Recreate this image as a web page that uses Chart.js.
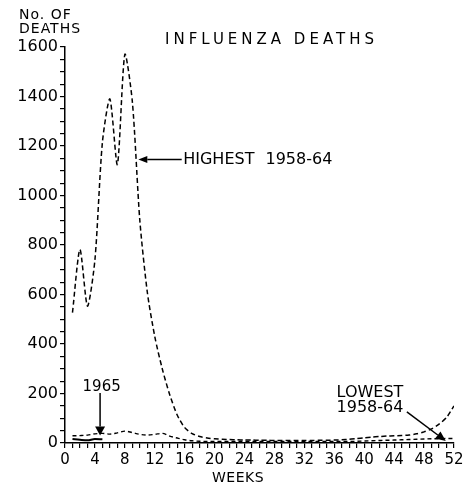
<!DOCTYPE html>
<html lang="en">
<head>
<meta charset="UTF-8">
<title>Influenza Deaths</title>
<script src="https://cdn.jsdelivr.net/npm/chart.js"></script>
<style>
    * { margin: 0; padding: 0; box-sizing: border-box; }
    body { background: #fff; width: 476px; height: 485px; overflow: hidden; }
    canvas { display: block; }
</style>
</head>
<body>
<canvas id="fluChart" width="476" height="485"></canvas>
<script>
// weekly deaths
const weeks = [1, 2, 3, 4, 5, 6, 7, 8, 9, 10, 11, 12, 13, 14, 15, 16, 17, 18, 19, 20,
    21, 22, 23, 24, 25, 26, 27, 28, 29, 30, 31, 32, 33, 34, 35, 36, 37, 38, 39, 40,
    41, 42, 43, 44, 45, 46, 47, 48, 49, 50, 51, 52];
const highest = [527, 782, 553, 740, 1215, 1390, 1125, 1570, 1380, 900, 610, 430, 300, 195, 113, 62, 38, 26, 20, 17,
    15, 14, 13, 12, 12, 11, 11, 10, 10, 10, 10, 10, 10, 11, 11, 12, 13, 15, 18, 21,
    24, 26, 28, 29, 30, 32, 37, 45, 57, 76, 103, 150];
const lowest = [29, 30, 32, 37, 39, 36, 41, 48, 42, 35, 32, 35, 39, 28, 20, 13, 9, 7, 6, 6,
    6, 6, 6, 6, 6, 6, 6, 6, 6, 6, 6, 6, 6, 6, 6, 6, 6, 6, 7, 8,
    9, 10, 11, 12, 13, 14, 15, 16, 17, 17, 18, 18];
const weeks1965 = [1, 2, 3, 4, 5];
const deaths1965 = [16, 13, 11, 16, 15];

const xLabelStep = 4;
const yLabelStep = 200;

// annotation anchors, in chart units (week, deaths)
const notes = {
    highest: { text: 'HIGHEST 1958-64', from: [15.6, 1145], to: [9.8, 1145], textAt: [15.8, 1145] },
    y1965: { text: '1965', from: [4.69, 202], to: [4.69, 30], textAt: [4.9, 227] },
    lowest: { lines: ['LOWEST', '1958-64'], from: [45.7, 126], to: [50.9, 8], textAt: [36.3, 204] }
};

const FONT = '"DejaVu Sans", sans-serif';

function points(xs, ys) {
    return xs.map((x, i) => ({ x: x, y: ys[i] }));
}

function arrow(ctx, x1, y1, x2, y2, len, half) {
    const a = Math.atan2(y2 - y1, x2 - x1);
    const bx = x2 - len * Math.cos(a), by = y2 - len * Math.sin(a);
    ctx.beginPath();
    ctx.moveTo(x1, y1);
    ctx.lineTo(bx, by);
    ctx.stroke();
    ctx.beginPath();
    ctx.moveTo(x2, y2);
    ctx.lineTo(bx + half * Math.sin(a), by - half * Math.cos(a));
    ctx.lineTo(bx - half * Math.sin(a), by + half * Math.cos(a));
    ctx.closePath();
    ctx.fill();
}

const labelsPlugin = {
    id: 'labels',
    afterDraw(chart) {
        const { ctx, scales: { x, y } } = chart;
        const px = p => [x.getPixelForValue(p[0]), y.getPixelForValue(p[1])];
        ctx.save();
        ctx.fillStyle = '#000';
        ctx.strokeStyle = '#000';
        ctx.lineWidth = 1.5;
        ctx.textBaseline = 'middle';

        // title
        ctx.font = '15px ' + FONT;
        ctx.letterSpacing = '4px';
        ctx.textAlign = 'left';
        ctx.fillText('INFLUENZA DEATHS', 165, 40);

        // y axis title
        ctx.font = '14px ' + FONT;
        ctx.letterSpacing = '1px';
        ctx.fillText('No. OF', 19, 15);
        ctx.fillText('DEATHS', 19, 29);

        // x axis title
        ctx.font = '14px ' + FONT;
        ctx.letterSpacing = '0.5px';
        ctx.textAlign = 'center';
        ctx.fillText('WEEKS', 238, 478);

        ctx.letterSpacing = '0px';
        ctx.font = '16px ' + FONT;

        // highest
        let n = notes.highest, a = px(n.from), b = px(n.to), t = px(n.textAt);
        arrow(ctx, a[0], a[1], b[0], b[1], 9, 3.5);
        ctx.textAlign = 'left';
        ctx.wordSpacing = '6px';
        ctx.fillText(n.text, t[0], t[1]);
        ctx.wordSpacing = '0px';

        // 1965
        n = notes.y1965; a = px(n.from); b = px(n.to); t = px(n.textAt);
        arrow(ctx, a[0], a[1], b[0], b[1], 9, 5);
        ctx.font = '15px ' + FONT;
        ctx.textAlign = 'center';
        ctx.fillText(n.text, t[0], t[1]);

        // lowest
        n = notes.lowest; a = px(n.from); b = px(n.to); t = px(n.textAt);
        arrow(ctx, a[0], a[1], b[0], b[1], 10, 4.5);
        ctx.font = '16px ' + FONT;
        ctx.textAlign = 'left';
        ctx.fillText(n.lines[0], t[0], t[1]);
        ctx.fillText(n.lines[1], t[0], t[1] + 15);

        ctx.restore();
    }
};

new Chart(document.getElementById('fluChart'), {
    type: 'line',
    data: {
        datasets: [
            {
                label: 'Highest 1958-64',
                data: points(weeks, highest),
                borderColor: '#000',
                borderWidth: 1.5,
                borderDash: [5, 3],
                pointRadius: 0,
                tension: 0.25
            },
            {
                label: 'Lowest 1958-64',
                data: points(weeks, lowest),
                borderColor: '#000',
                borderWidth: 1.4,
                borderDash: [4, 3],
                pointRadius: 0,
                cubicInterpolationMode: 'monotone'
            },
            {
                label: '1965',
                data: points(weeks1965, deaths1965),
                borderColor: '#000',
                borderWidth: 2,
                pointRadius: 0,
                cubicInterpolationMode: 'monotone'
            }
        ]
    },
    options: {
        responsive: false,
        animation: false,
        devicePixelRatio: 1,
        layout: { padding: { left: 0, top: 47, right: 22, bottom: 0 } },
        plugins: { legend: { display: false }, tooltip: { enabled: false } },
        scales: {
            x: {
                type: 'linear',
                min: 0,
                max: 52,
                afterFit: s => { s.height = 42; },
                grid: { drawOnChartArea: false, tickLength: 5, color: '#000', lineWidth: 1.2 },
                border: { color: '#000', width: 1.5 },
                ticks: {
                    stepSize: 1,
                    autoSkip: false,
                    maxRotation: 0,
                    padding: 3,
                    color: '#000',
                    font: { family: FONT, size: 15 },
                    callback: v => (v % xLabelStep === 0 ? String(v) : '')
                }
            },
            y: {
                min: 0,
                max: 1600,
                afterFit: s => { s.width = 65; },
                grid: { drawOnChartArea: false, tickLength: 5, color: '#000', lineWidth: 1.2 },
                border: { color: '#000', width: 1.5 },
                ticks: {
                    stepSize: 50,
                    autoSkip: false,
                    padding: 2,
                    color: '#000',
                    font: { family: FONT, size: 16 },
                    callback: v => (v % yLabelStep === 0 ? String(v) : '')
                }
            }
        }
    },
    plugins: [labelsPlugin]
});
</script>
</body>
</html>
